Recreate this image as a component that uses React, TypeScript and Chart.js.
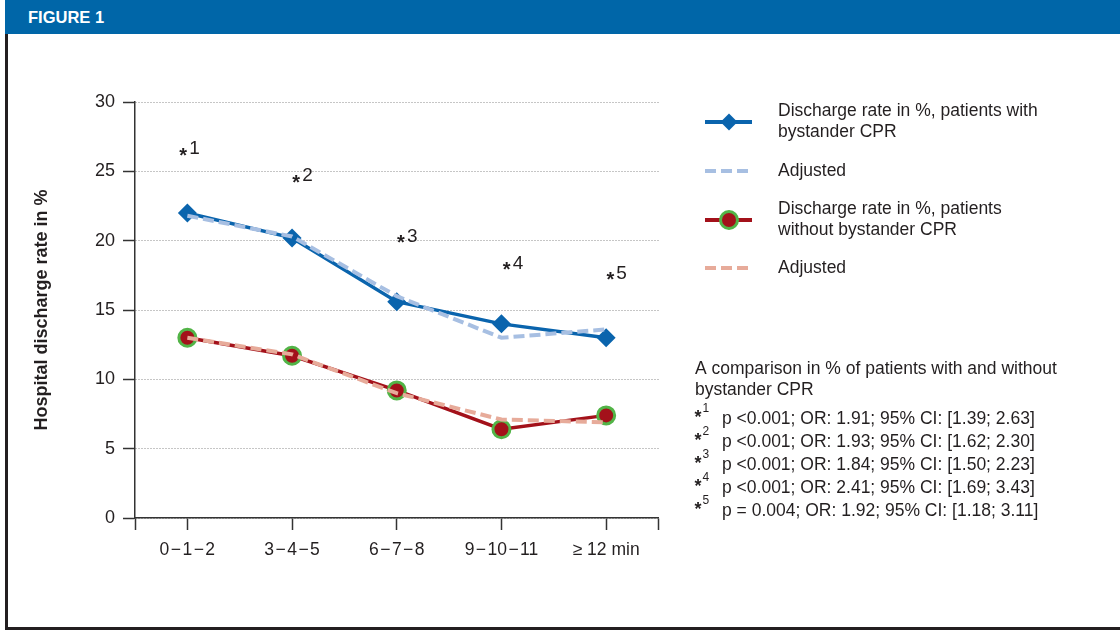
import React, { useEffect, useRef } from 'react';
import { Chart, registerables } from 'chart.js';

Chart.register(...registerables);

// ---------- data ----------
const categories = [
  '0\u200a\u2212\u200a1\u200a\u2212\u200a2',
  '3\u200a\u2212\u200a4\u200a\u2212\u200a5',
  '6\u200a\u2212\u200a7\u200a\u2212\u200a8',
  '9\u200a\u2212\u200a10\u200a\u2212\u200a11',
  '\u2265 12 min',
];
const withCpr = [22.0, 20.2, 15.6, 14.0, 13.0];
const withCprAdjusted = [21.8, 20.3, 16.0, 13.0, 13.6];
const withoutCpr = [13.0, 11.7, 9.2, 6.4, 7.4];
const withoutCprAdjusted = [13.0, 11.8, 9.0, 7.1, 6.9];

const yTicks = [0, 5, 10, 15, 20, 25, 30];
// significance markers (annotation anchors in data units)
const starLabels = ['1', '2', '3', '4', '5'];
const starX = [-0.04, 1.04, 2.04, 3.05, 4.04];
const starValues = [26.6, 24.65, 20.3, 18.35, 17.6];

const seriesNames = [
  ['Discharge rate in %, patients with', 'bystander CPR'],
  ['Adjusted'],
  ['Discharge rate in %, patients', 'without bystander CPR'],
  ['Adjusted'],
];
const yTitle = 'Hospital discharge rate in %';
const noteTitle = ['A comparison in % of patients with and without', 'bystander CPR'];
const noteLines = [
  'p <0.001; OR: 1.91; 95% CI: [1.39; 2.63]',
  'p <0.001; OR: 1.93; 95% CI: [1.62; 2.30]',
  'p <0.001; OR: 1.84; 95% CI: [1.50; 2.23]',
  'p <0.001; OR: 2.41; 95% CI: [1.69; 3.43]',
  'p = 0.004; OR: 1.92; 95% CI: [1.18; 3.11]',
];

// ---------- styles ----------
const FONT = '"Liberation Sans", Arial, Helvetica, sans-serif';
const TEXT = '#231f20';
const BLUE = '#0a64ad';
const BLUE_ADJ = '#a7bfe2';
const RED = '#a3111a';
const GREEN = '#52b447';
const RED_ADJ = '#e7ab9a';

function drawDiamond(ctx: CanvasRenderingContext2D, x: number, y: number, r: number, color: string) {
  ctx.beginPath();
  ctx.moveTo(x, y - r);
  ctx.lineTo(x + r, y);
  ctx.lineTo(x, y + r);
  ctx.lineTo(x - r, y);
  ctx.closePath();
  ctx.fillStyle = color;
  ctx.fill();
}

const overlayPlugin = {
  id: 'overlay',
  afterDraw(chart: any) {
    const ctx: CanvasRenderingContext2D = chart.ctx;
    const xs = chart.scales.x;
    const ys = chart.scales.y;
    ctx.save();

    // significance stars on chart
    starLabels.forEach((lab, i) => {
      const x = xs.getPixelForValue(starX[i]);
      const y = ys.getPixelForValue(starValues[i]);
      ctx.fillStyle = TEXT;
      ctx.font = 'bold 20px ' + FONT;
      ctx.textAlign = 'center';
      ctx.textBaseline = 'alphabetic';
      ctx.fillText('*', x, y + 12.5);
      ctx.font = '19px ' + FONT;
      ctx.textAlign = 'left';
      ctx.textBaseline = 'middle';
      ctx.fillText(lab, x + 6, y);
    });

    // legend
    const ds = chart.data.datasets;
    const lx1 = 705, lx2 = 752, lxm = 729, tx = 778;
    const rows = [122, 171, 220, 268];
    seriesNames.forEach((lines, i) => {
      const d = ds[i];
      const cy = rows[i];
      ctx.save();
      ctx.strokeStyle = d.borderColor;
      ctx.lineWidth = 4;
      ctx.setLineDash(d.borderDash || []);
      ctx.beginPath();
      ctx.moveTo(lx1, cy);
      ctx.lineTo(lx2, cy);
      ctx.stroke();
      ctx.restore();
      if (d.pointStyle === 'rectRot') {
        drawDiamond(ctx, lxm, cy, 8.5, d.pointBackgroundColor);
      } else if (d.pointStyle === 'circle' && d.pointRadius > 0) {
        ctx.beginPath();
        ctx.arc(lxm, cy, 8.5, 0, Math.PI * 2);
        ctx.fillStyle = d.pointBackgroundColor;
        ctx.fill();
        ctx.lineWidth = 3;
        ctx.strokeStyle = d.pointBorderColor;
        ctx.stroke();
      }
      ctx.fillStyle = TEXT;
      ctx.font = '17.5px ' + FONT;
      ctx.textAlign = 'left';
      ctx.textBaseline = 'middle';
      const lh = 21;
      const top = cy - ((lines.length - 1) * lh) / 2;
      lines.forEach((t, j) => ctx.fillText(t, tx, top + j * lh));
    });

    // notes
    ctx.fillStyle = TEXT;
    ctx.font = '17.5px ' + FONT;
    ctx.textAlign = 'left';
    ctx.textBaseline = 'middle';
    noteTitle.forEach((t, j) => ctx.fillText(t, 695, 369 + j * 21));
    noteLines.forEach((t, j) => {
      const y = 419 + j * 23;
      ctx.font = '17.5px ' + FONT;
      ctx.textAlign = 'left';
      ctx.textBaseline = 'middle';
      ctx.fillText(t, 722, y);
      ctx.font = 'bold 18px ' + FONT;
      ctx.textAlign = 'center';
      ctx.textBaseline = 'alphabetic';
      ctx.fillText('*', 698, y + 3.5);
      ctx.font = '12px ' + FONT;
      ctx.textAlign = 'left';
      ctx.textBaseline = 'middle';
      ctx.fillText(starLabels[j], 702.5, y - 10);
    });

    ctx.restore();
  },
};

export default function App() {
  const ref = useRef<HTMLCanvasElement | null>(null);

  useEffect(() => {
    if (!ref.current) return;
    const toXY = (arr: number[]) => arr.map((y, i) => ({ x: i, y }));
    const chart = new Chart(ref.current, {
      type: 'line',
      data: {
        datasets: [
          {
            label: seriesNames[0].join(' '),
            data: toXY(withCpr),
            borderColor: BLUE,
            backgroundColor: BLUE,
            borderWidth: 3.5,
            pointStyle: 'rectRot',
            pointRadius: 9.5,
            pointBackgroundColor: BLUE,
            pointBorderColor: BLUE,
            pointBorderWidth: 0,
            tension: 0,
            order: 2,
          } as any,
          {
            label: seriesNames[1].join(' '),
            data: toXY(withCprAdjusted),
            borderColor: BLUE_ADJ,
            borderWidth: 4,
            borderDash: [11, 5],
            pointRadius: 0,
            pointStyle: false,
            tension: 0,
            order: 1,
          } as any,
          {
            label: seriesNames[2].join(' '),
            data: toXY(withoutCpr),
            borderColor: RED,
            backgroundColor: RED,
            borderWidth: 3.5,
            pointStyle: 'circle',
            pointRadius: 8.5,
            pointBackgroundColor: RED,
            pointBorderColor: GREEN,
            pointBorderWidth: 3,
            tension: 0,
            order: 2,
          } as any,
          {
            label: seriesNames[3].join(' '),
            data: toXY(withoutCprAdjusted),
            borderColor: RED_ADJ,
            borderWidth: 4,
            borderDash: [11, 5],
            pointRadius: 0,
            pointStyle: false,
            tension: 0,
            order: 1,
          } as any,
        ],
      },
      options: {
        responsive: false,
        animation: false,
        events: [],
        layout: { padding: { left: 8, right: 461.5, top: 102, bottom: 0 } },
        plugins: {
          legend: { display: false },
          tooltip: { enabled: false },
          title: { display: false },
        },
        scales: {
          x: {
            type: 'linear',
            min: -0.5,
            max: 4.5,
            afterBuildTicks: (axis: any) => {
              axis.ticks = [-0.5, ...categories.map((_, i) => i), categories.length - 0.5].map((v) => ({ value: v }));
            },
            afterFit: (axis: any) => {
              axis.height = 112;
            },
            ticks: {
              autoSkip: false,
              maxRotation: 0,
              padding: 9.5,
              color: TEXT,
              font: { family: FONT, size: 17.5 },
              callback: (v: any) => (Number.isInteger(v) && categories[v] !== undefined ? categories[v] : ''),
            },
            grid: {
              drawOnChartArea: false,
              drawTicks: true,
              tickLength: 12,
              tickColor: '#333',
              tickWidth: 1.5,
            },
            border: { display: true, color: '#333', width: 1.5 },
          },
          y: {
            type: 'linear',
            min: 0,
            max: 30,
            afterBuildTicks: (axis: any) => {
              axis.ticks = yTicks.map((v) => ({ value: v }));
            },
            afterFit: (axis: any) => {
              axis.width = 127;
            },
            ticks: {
              padding: 8,
              color: TEXT,
              font: { family: FONT, size: 18 },
            },
            grid: {
              color: '#8c8c8c',
              lineWidth: 1,
              drawTicks: true,
              tickLength: 12,
              tickColor: '#333',
              tickWidth: 1.5,
              tickBorderDash: [],
            },
            border: { display: true, color: '#333', width: 1.5, dash: [1, 2] },
            title: {
              display: true,
              text: yTitle,
              color: TEXT,
              font: { family: FONT, size: 18, weight: 'bold' },
              padding: { top: 23, bottom: 0 },
            },
          },
        },
      },
      plugins: [overlayPlugin],
    });
    return () => chart.destroy();
  }, []);

  return (
    <div style={{ position: 'absolute', left: 0, top: 0, width: 1120, height: 630, background: '#fff', overflow: 'hidden' }}>
      <canvas ref={ref} width={1120} height={630} style={{ position: 'absolute', left: 0, top: 0, width: 1120, height: 630 }} />
      <div
        style={{
          position: 'absolute',
          left: 5,
          top: 0,
          width: 1115,
          height: 34,
          background: '#0066a8',
          color: '#fff',
          fontFamily: FONT,
          fontWeight: 'bold',
          fontSize: 16.5,
          lineHeight: '35px',
          paddingLeft: 23,
          boxSizing: 'border-box',
        }}
      >
        FIGURE 1
      </div>
      <div style={{ position: 'absolute', left: 5, top: 34, width: 3, height: 596, background: '#231f20' }} />
      <div style={{ position: 'absolute', left: 5, top: 627, width: 1115, height: 3, background: '#231f20' }} />
    </div>
  );
}
